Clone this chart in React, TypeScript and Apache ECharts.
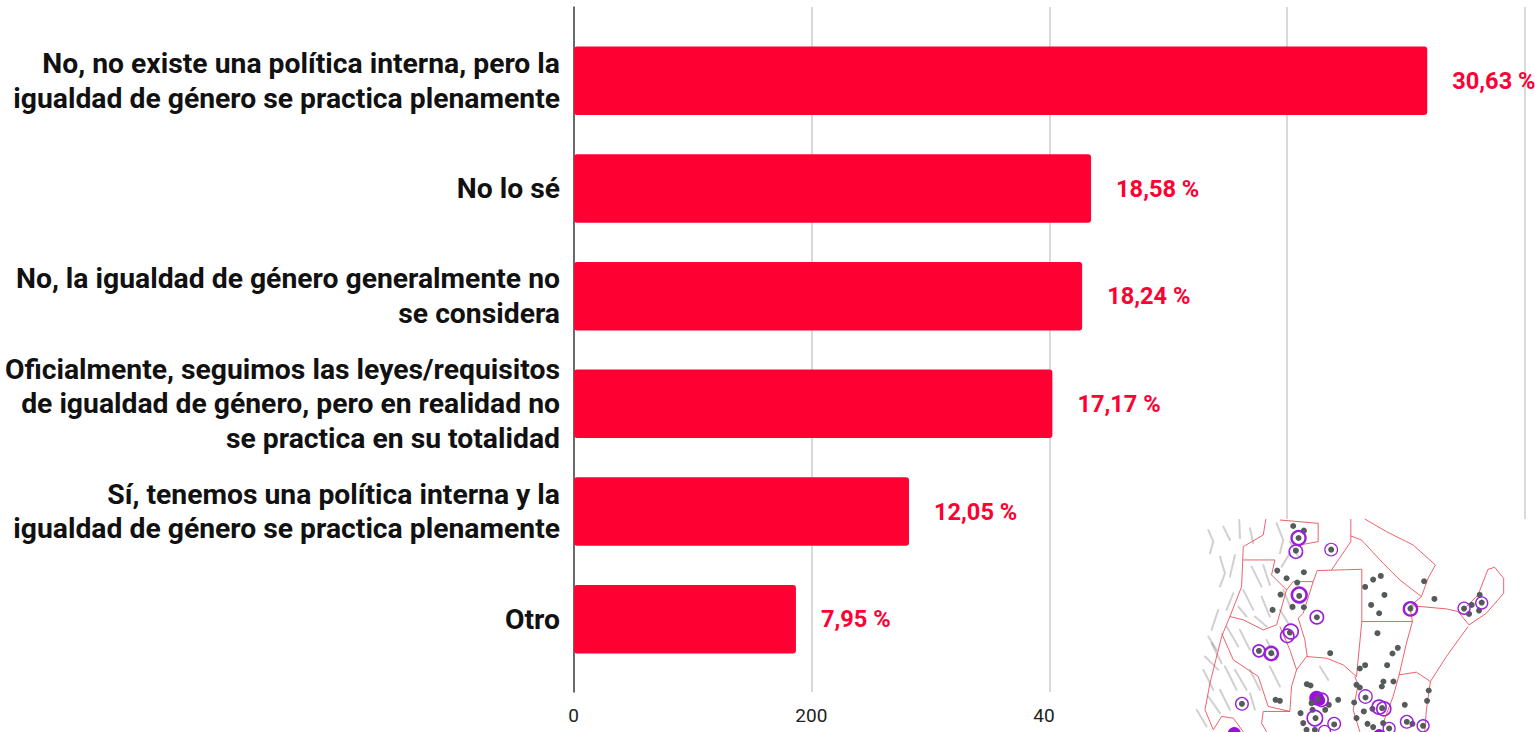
import React, { useEffect, useRef } from "react";
import * as echarts from "echarts";

const categories = [
  "No, no existe una política interna, pero la\nigualdad de género se practica plenamente",
  "No lo sé",
  "No, la igualdad de género generalmente no\nse considera",
  "Oficialmente, seguimos las leyes/requisitos\nde igualdad de género, pero en realidad no\nse practica en su totalidad",
  "Sí, tenemos una política interna y la\nigualdad de género se practica plenamente",
  "Otro",
];
const counts = [717, 434.5, 427, 402, 281.5, 186.5];
const percentLabels = ["30,63 %", "18,58 %", "18,24 %", "17,17 %", "12,05 %", "7,95 %"];

// Decorative map inset that covers the chart's lower right corner (drawn in a local 3x space)
const mapBorders: number[][][] = [
  [[513, 27], [513, 95], [455, 180]],
  [[555, 27], [620, 65], [700, 105], [767, 165], [745, 205], [725, 260], [660, 210], [610, 160], [545, 90], [513, 78]],
  [[400, 215], [412, 182], [546, 178], [546, 335], [698, 335], [690, 290], [725, 260]],
  [[690, 287], [800, 297], [835, 305], [868, 345], [920, 310], [972, 250], [972, 205], [945, 172], [925, 178], [895, 255], [860, 290]],
  [[546, 335], [530, 500], [490, 465], [440, 445], [380, 440], [350, 480], [335, 530], [330, 605], [250, 605], [245, 640], [260, 666]],
  [[400, 215], [370, 310], [355, 325], [375, 390], [382, 440]],
  [[525, 500], [535, 525], [520, 600], [540, 666]],
  [[698, 335], [680, 400], [658, 495], [710, 487], [752, 515], [740, 600], [735, 666]],
  [[865, 350], [800, 440], [752, 515]],
  [[658, 495], [640, 560], [610, 640]],
  [[258, 27], [250, 75], [190, 110], [185, 230], [150, 320], [125, 380], [90, 520], [75, 600], [100, 660]],
  [[190, 150], [285, 150], [275, 195], [320, 240], [340, 215], [400, 215]],
  [[150, 320], [190, 330], [250, 360], [290, 345], [320, 240]],
  [[125, 370], [160, 450], [235, 500], [265, 590], [330, 605]],
  [[350, 480], [330, 420], [300, 350]],
  [[300, 30], [415, 40], [415, 95], [360, 105]],
  [[100, 660], [125, 620], [160, 625], [190, 666]],
];
const mapRelief: number[][][] = [
  [[85, 60], [100, 95], [90, 130]], [[130, 50], [150, 90]], [[178, 30], [180, 85]], [[120, 140], [135, 190], [120, 230]],
  [[165, 135], [150, 200]], [[210, 55], [220, 100]], [[290, 40], [310, 90], [300, 130]], [[330, 130], [305, 170]],
  [[215, 170], [245, 230]], [[250, 165], [270, 225]], [[190, 240], [220, 300]], [[160, 250], [140, 300]],
  [[245, 260], [270, 320]], [[310, 240], [335, 300]], [[300, 300], [325, 340]], [[115, 300], [95, 360]],
  [[85, 380], [110, 420]], [[75, 440], [115, 480]], [[70, 480], [100, 540]], [[95, 400], [125, 460]],
  [[140, 350], [175, 410]], [[180, 360], [210, 420]], [[135, 470], [170, 540]], [[120, 540], [150, 600]],
  [[165, 480], [200, 540]], [[210, 480], [240, 540]], [[260, 390], [290, 450]], [[270, 470], [300, 530]],
  [[210, 550], [225, 600]], [[50, 600], [80, 650]], [[85, 560], [120, 610]], [[420, 470], [445, 510]],
  [[330, 95], [355, 140]], [[225, 320], [260, 350]], [[175, 290], [200, 320]],
];
const mapDots: number[][] = [
  [340, 48], [372, 62], [356, 84], [348, 122], [454, 119], [292, 182], [372, 187], [320, 205], [352, 218], [302, 254],
  [358, 258], [278, 300], [338, 291], [372, 292], [411, 322], [330, 368], [237, 423], [274, 430], [451, 430], [580, 209],
  [603, 198], [556, 231], [614, 255], [574, 285], [598, 310], [733, 214], [764, 267], [692, 296], [853, 296], [906, 278],
  [876, 285], [868, 312], [898, 302], [900, 255], [593, 370], [654, 414], [638, 431], [622, 466], [556, 466], [540, 476],
  [611, 515], [606, 530], [641, 515], [530, 525], [540, 533], [381, 523], [392, 527], [557, 563], [523, 578], [475, 570],
  [447, 585], [414, 568], [395, 580], [436, 600], [398, 600], [362, 610], [552, 605], [578, 597], [607, 595], [675, 585],
  [747, 542], [742, 573], [186, 582], [287, 570], [300, 573], [530, 625], [563, 642], [580, 652], [610, 640], [681, 636],
  [698, 642], [730, 648], [463, 644], [407, 625], [370, 640], [380, 660], [405, 660], [628, 656],
];
const mapRings: number[][] = [
  [356, 84, 21, 7], [348, 125, 20, 5], [454, 119, 19, 3.5], [358, 255, 22, 8], [411, 322, 20, 5], [333, 365, 22, 5],
  [322, 378, 20, 5], [237, 423, 18, 5], [274, 431, 20, 7], [692, 297, 20, 7], [853, 295, 18, 4], [906, 279, 18, 4],
  [186, 582, 19, 4], [557, 560, 20, 4], [598, 592, 21, 5], [612, 597, 21, 5], [425, 570, 20, 5], [405, 625, 23, 5],
  [463, 642, 19, 4], [434, 665, 18, 4], [628, 656, 18, 4], [681, 636, 19, 4], [730, 648, 18, 4],
];
const mapBlobs: number[][] = [[410, 565, 22], [420, 572, 16], [598, 676, 18], [163, 672, 20]];

const BAR_RED = "#ff0033";

export default function App() {
  const ref = useRef<HTMLDivElement>(null);
  useEffect(() => {
    if (!ref.current) return;
    const chart = echarts.init(ref.current, null, { renderer: "svg" });
    const toPts = (l: number[][]) => l.map((p) => [p[0], p[1]]);
    const children: any[] = [
      { type: "rect", z: 60, shape: { x: 30, y: 27, width: 1100, height: 700 }, style: { fill: "#ffffff" } },
      ...mapRelief.map((l) => ({
        type: "polyline", z: 61, shape: { points: toPts(l) },
        style: { stroke: "rgba(110,110,110,0.32)", lineWidth: 6, fill: "none", lineCap: "round", lineJoin: "round" },
      })),
      ...mapBorders.map((l) => ({
        type: "polyline", z: 62, shape: { points: toPts(l) },
        style: { stroke: "rgba(232,70,80,0.85)", lineWidth: 3, fill: "none" },
      })),
      ...mapBlobs.map((b) => ({
        type: "circle", z: 63, shape: { cx: b[0], cy: b[1], r: b[2] }, style: { fill: "#9a10d8" },
      })),
      ...mapDots.map((d) => ({
        type: "circle", z: 64, shape: { cx: d[0], cy: d[1], r: 9 }, style: { fill: "#555b58" },
      })),
      ...mapRings.map((r) => ({
        type: "circle", z: 65, shape: { cx: r[0], cy: r[1], r: r[2] },
        style: { fill: "none", stroke: "#9a20d8", lineWidth: r[3] },
      })),
    ];
    chart.setOption({
      animation: false,
      backgroundColor: "#ffffff",
      textStyle: { fontFamily: "Roboto" },
      grid: [
        { left: 573.5, top: 7, width: 951.5, height: 685, outerBoundsMode: "none" },
        { left: 574, top: 27, width: 952, height: 646, outerBoundsMode: "none" },
      ],
      xAxis: [
        {
          type: "value", gridIndex: 0, min: 0, max: 800, interval: 200,
          axisLine: { show: false }, axisTick: { show: false },
          axisLabel: { color: "#222222", fontSize: 19, margin: 14, fontFamily: "Roboto", showMaxLabel: false },
          splitLine: { show: true, lineStyle: { color: "#cccccc", width: 1.5 } },
        },
        { type: "value", gridIndex: 1, min: 0, max: 800, show: false, splitLine: { show: false } },
      ],
      yAxis: [
        {
          type: "value", gridIndex: 0, min: 0, max: 1, position: "left",
          axisLine: { show: true, onZero: false, lineStyle: { color: "#444444", width: 1.5 } },
          axisTick: { show: false }, axisLabel: { show: false }, splitLine: { show: false },
        },
        {
          type: "category", gridIndex: 1, data: categories, inverse: true,
          axisLine: { show: false }, axisTick: { show: false }, splitLine: { show: false },
          axisLabel: {
            color: "#111111", fontSize: 28.3, fontWeight: "bold", fontFamily: "Roboto",
            lineHeight: 34.5, align: "right", margin: 14, interval: 0,
          },
        },
      ],
      series: [
        {
          type: "bar", xAxisIndex: 1, yAxisIndex: 1, data: counts, barWidth: 68.5,
          itemStyle: { color: BAR_RED, borderRadius: 3 },
          label: {
            show: true, position: "right", distance: 25, color: BAR_RED,
            fontFamily: "Roboto", fontWeight: "bold", fontSize: 23.6,
            formatter: (p: any) => percentLabels[p.dataIndex],
          },
        },
      ],
      graphic: [
        { type: "rect", left: 1055, top: 698, z: 50, shape: { width: 140, height: 34 }, style: { fill: "#ffffff" } },
        { type: "group", x: 1180, y: 510, scaleX: 1 / 3, scaleY: 1 / 3, z: 60, children },
      ],
    });
    return () => chart.dispose();
  }, []);
  return <div ref={ref} style={{ position: "absolute", left: 0, top: 0, width: 1535, height: 732 }} />;
}
